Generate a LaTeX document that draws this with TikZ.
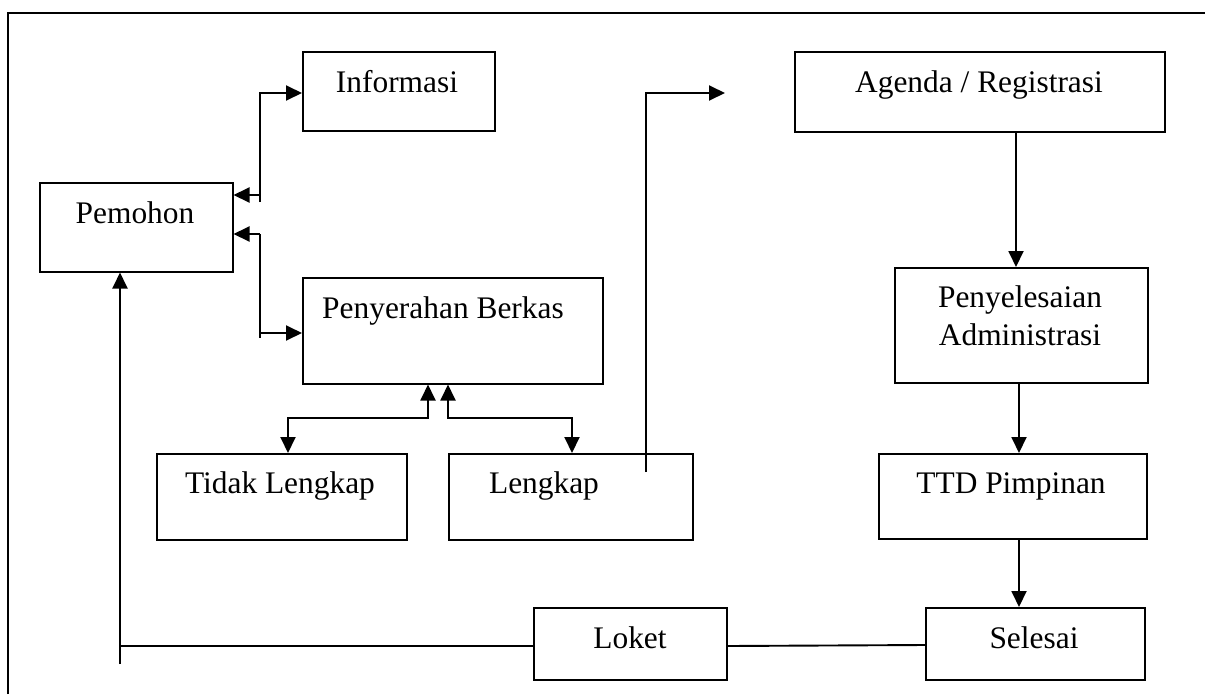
\documentclass[tikz,border=0pt]{standalone}
\usepackage{fontspec}
\setmainfont{Liberation Serif}
\usetikzlibrary{arrows.meta}
\begin{document}
\begin{tikzpicture}[x=1pt,y=-1pt,
  box/.style={draw, line width=1.5pt, inner sep=0pt, anchor=north west},
  lbl/.style={anchor=base, inner sep=0pt, font=\fontsize{31.4}{38}\selectfont, align=center},
  con/.style={line width=1.9pt},
  >={Triangle[length=16pt,width=15pt]}]
\useasboundingbox (0,0) rectangle (1205,694);
% page frame
\draw[line width=1.6pt] (8,694) -- (8,13) -- (1205,13);

% boxes
\node[box, minimum width=193pt, minimum height=89pt]  (pemohon)      at (39,182)  {};
\node[box, minimum width=192pt, minimum height=79pt]  (informasi)    at (302,51)  {};
\node[box, minimum width=300pt, minimum height=106pt] (penyerahan)   at (302,277) {};
\node[box, minimum width=250pt, minimum height=86pt]  (tidak)        at (156,453) {};
\node[box, minimum width=244pt, minimum height=86pt]  (lengkap)      at (448,453) {};
\node[box, minimum width=370pt, minimum height=80pt]  (agenda)       at (794,51)  {};
\node[box, minimum width=253pt, minimum height=115pt] (penyelesaian) at (894,267) {};
\node[box, minimum width=268pt, minimum height=85pt]  (ttd)          at (878,453) {};
\node[box, minimum width=193pt, minimum height=72pt]  (loket)        at (533,607) {};
\node[box, minimum width=219pt, minimum height=72pt]  (selesai)      at (925,607) {};

% labels (base anchor = baseline of the last line)
\node[lbl] (pemohonT)      at (135,223)  {Pemohon};
\node[lbl] (informasiT)    at (397,92)   {Informasi};
\node[lbl] (penyerahanT)   at (443,318)  {Penyerahan Berkas};
\node[lbl] (tidakT)        at (280,493)  {Tidak Lengkap};
\node[lbl] (lengkapT)      at (544,493)  {Lengkap};
\node[lbl] (agendaT)       at (979,92)   {Agenda / Registrasi};
\node[lbl] (penyelesaianT) at (1020,345) {Penyelesaian\\Administrasi};
\node[lbl] (ttdT)          at (1011,493) {TTD Pimpinan};
\node[lbl] (loketT)        at (630,648)  {Loket};
\node[lbl] (selesaiT)      at (1034,648) {Selesai};

% junction points
\coordinate (infoFoot) at (260,202);
\coordinate (berkasTop) at (260,234);
\coordinate (berkasFoot) at (260,338);
\coordinate (lengkapFoot) at (646,472);
\coordinate (lengkapTip) at (725,93);
\coordinate (returnFoot) at (120,664);

% Pemohon <-> Informasi
\draw[con,->] (infoFoot) -- (260,93) -- (informasi.west |- 0,93);
\draw[con,->] (260,195) -- (pemohon.east |- 0,195);
% Pemohon <-> Penyerahan Berkas
\draw[con,->] (berkasTop) -- (pemohon.east |- berkasTop);
\draw[con] (berkasTop) -- (berkasFoot);
\draw[con,->] (260,333) -- (penyerahan.west |- 0,333);
% Penyerahan Berkas <-> Tidak Lengkap / Lengkap
\draw[con,<->] (tidak.north -| 288,0) |- (428,418) -- (penyerahan.south -| 428,0);
\draw[con,<->] (lengkap.north -| 572,0) |- (448,418) -- (penyerahan.south -| 448,0);
% Lengkap -> Agenda
\draw[con,->] (lengkapFoot) -- (646,93) -- (lengkapTip);
% right column
\draw[con,->] (agenda.south -| 1016,0) -- (penyelesaian.north -| 1016,0);
\draw[con,->] (penyelesaian.south -| 1019,0) -- (ttd.north -| 1019,0);
\draw[con,->] (ttd.south -| 1019,0) -- (selesai.north -| 1019,0);
% back to Pemohon
\draw[con] (selesai.west |- 0,645) -- (loket.east |- 0,646);
\draw[con] (loket.west |- 0,646) -- (120,646);
\draw[con,->] (returnFoot) -- (pemohon.south -| 120,0);
\end{tikzpicture}
\end{document}
